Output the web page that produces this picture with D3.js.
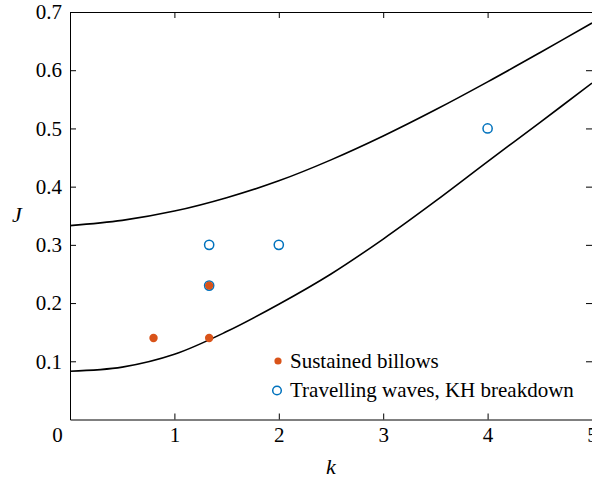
<!DOCTYPE html>
<html>
<head>
<meta charset="utf-8">
<script src="https://cdn.jsdelivr.net/npm/d3@7"></script>
<style>
    body { margin: 0; background: #fff; }
    svg text { font-family: "Liberation Serif", "Times New Roman", serif; fill: #000; }
</style>
</head>
<body>
<div id="chart"></div>
<script>
// boundary curves
var kGrid = [0, 0.5, 1, 1.5, 2, 2.5, 3, 3.5, 4, 4.5, 5];
var upperJ = [0.333, 0.342, 0.358, 0.381, 0.410, 0.446, 0.487, 0.532, 0.580, 0.630, 0.681];
var lowerJ = [0.083, 0.090, 0.112, 0.151, 0.198, 0.250, 0.310, 0.375, 0.443, 0.510, 0.578];

// simulation points
var billowsK = [0.8, 1.333, 1.333];
var billowsJ = [0.14, 0.14, 0.23];
var wavesK = [1.333, 2, 1.333, 4];
var wavesJ = [0.3, 0.3, 0.23, 0.5];

var xTicks = [0, 1, 2, 3, 4, 5];
var yTicks = [0.1, 0.2, 0.3, 0.4, 0.5, 0.6, 0.7];
var legendLabels = ["Sustained billows", "Travelling waves, KH breakdown"];

var orange = "#D95319";
var blue = "#0072BD";

// STEP 1: SET UP THE CANVAS
var svgWidth = 592;
var svgHeight = 479;
var margin = { top: 12, right: 0, bottom: 59.5, left: 70 };
var chart_width = svgWidth - margin.left - margin.right;
var chart_height = svgHeight - margin.top - margin.bottom;

var svg = d3.select("#chart")
    .append("svg")
    .attr("width", svgWidth)
    .attr("height", svgHeight);

var chart = svg.append("g")
    .attr("transform", `translate(${margin.left}, ${margin.top})`);

// STEP 2: SCALES
var xScale = d3.scaleLinear().domain([0, 5]).range([0, chart_width]);
var yScale = d3.scaleLinear().domain([0, 0.7]).range([chart_height, 0]);

// STEP 3: AXES (ticks inward, box on all four sides)
function styleAxis(g) {
    g.select(".domain").attr("stroke", "#000").attr("stroke-width", 1);
    g.selectAll(".tick line").attr("stroke", "#000").attr("stroke-width", 1);
    g.selectAll("text").attr("font-size", 21);
}

var xAxis = chart.append("g")
    .attr("transform", `translate(0, ${chart_height})`)
    .call(d3.axisBottom(xScale).tickValues(xTicks).tickSizeInner(-6).tickSizeOuter(0).tickPadding(7.5).tickFormat(d3.format("d")))
    .call(styleAxis);
// the corner "0" sits left of the origin
xAxis.selectAll(".tick").filter(d => d === 0).select("text").attr("x", -13);
xAxis.selectAll(".tick").filter(d => d === 0).select("line").remove();

var yAxis = chart.append("g")
    .call(d3.axisLeft(yScale).tickValues(yTicks).tickSizeInner(-6).tickSizeOuter(0).tickPadding(8).tickFormat(d3.format(".1f")))
    .call(styleAxis);

chart.append("g")
    .call(d3.axisTop(xScale).tickValues(xTicks).tickSizeInner(-6).tickSizeOuter(0).tickFormat(""))
    .call(styleAxis);

chart.append("g")
    .attr("transform", `translate(${chart_width}, 0)`)
    .call(d3.axisRight(yScale).tickValues(yTicks).tickSizeInner(-6).tickSizeOuter(0).tickFormat(""))
    .call(styleAxis);

// STEP 4: BOUNDARY CURVES
var line = d3.line()
    .x(d => xScale(d[0]))
    .y(d => yScale(d[1]))
    .curve(d3.curveCatmullRom.alpha(0.5));

[upperJ, lowerJ].forEach(function(series) {
    chart.append("path")
        .datum(kGrid.map((k, i) => [k, series[i]]))
        .attr("fill", "none")
        .attr("stroke", "#000")
        .attr("stroke-width", 1.6)
        .attr("d", line);
});

// STEP 5: POINTS
chart.append("g")
    .selectAll("circle")
    .data(wavesK.map((k, i) => [k, wavesJ[i]]))
    .enter()
    .append("circle")
    .attr("cx", d => xScale(d[0]))
    .attr("cy", d => yScale(d[1]))
    .attr("r", 4.6)
    .attr("fill", "none")
    .attr("stroke", blue)
    .attr("stroke-width", 1.5);

chart.append("g")
    .selectAll("circle")
    .data(billowsK.map((k, i) => [k, billowsJ[i]]))
    .enter()
    .append("circle")
    .attr("cx", d => xScale(d[0]))
    .attr("cy", d => yScale(d[1]))
    .attr("r", 4.2)
    .attr("fill", orange);

// STEP 6: LEGEND
var legend = svg.append("g").attr("transform", "translate(277, 361)");
legend.append("circle").attr("cx", 1).attr("cy", 0).attr("r", 3.6).attr("fill", orange);
legend.append("circle").attr("cx", 0).attr("cy", 29.5).attr("r", 4.3)
    .attr("fill", "none").attr("stroke", blue).attr("stroke-width", 1.5);
legend.selectAll("text.lab")
    .data(legendLabels)
    .enter()
    .append("text")
    .attr("class", "lab")
    .attr("x", 13)
    .attr("y", (d, i) => 6.5 + i * 29.5)
    .attr("font-size", 21)
    .text(d => d);

// STEP 7: AXIS LABELS
svg.append("text")
    .attr("x", margin.left + chart_width / 2)
    .attr("y", 474)
    .attr("text-anchor", "middle")
    .attr("font-size", 22)
    .attr("font-style", "italic")
    .text("k");

svg.append("text")
    .attr("x", 17)
    .attr("y", 222)
    .attr("text-anchor", "middle")
    .attr("font-size", 22)
    .attr("font-style", "italic")
    .text("J");
</script>
</body>
</html>
